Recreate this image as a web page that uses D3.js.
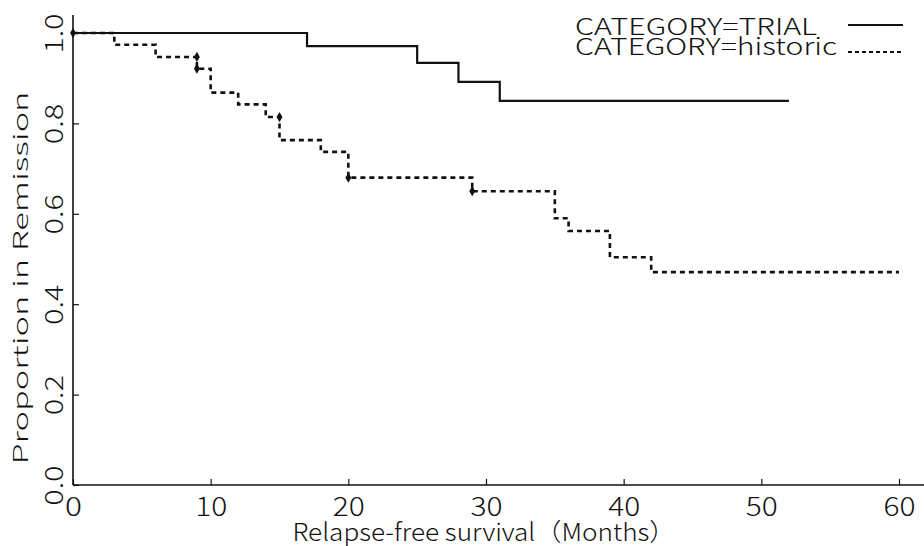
<!DOCTYPE html>
<html>
<head>
<meta charset="utf-8">
<script src="https://cdn.jsdelivr.net/npm/d3@7"></script>
<style>
  html, body { margin: 0; padding: 0; background: #fff; }
  svg { display: block; }
  text { font-family: 'Noto Sans CJK JP', 'DejaVu Sans', sans-serif; font-weight: 300; fill: #111; }
</style>
</head>
<body>
<svg id="chart" width="924" height="546"></svg>
<script>
// Kaplan-Meier steps
const trialTimes = [0, 17, 25, 28, 31, 52];
const trialSurv = [1.0, 0.971, 0.934, 0.892, 0.850, 0.850];
const trialCensorTimes = [0];
const trialCensorSurv = [1.0];

const historicTimes = [0, 3, 6, 9, 10, 12, 14, 15, 18, 20, 29, 35, 36, 39, 42, 60];
const historicSurv = [1.0, 0.974, 0.947, 0.921, 0.868, 0.842, 0.814, 0.763, 0.737, 0.680, 0.650, 0.590, 0.562, 0.504, 0.471, 0.471];
const historicCensorTimes = [9, 9, 15, 20, 29];
const historicCensorSurv = [0.947, 0.921, 0.814, 0.680, 0.650];

const xTicks = [0, 10, 20, 30, 40, 50, 60];
const yTicks = [0.0, 0.2, 0.4, 0.6, 0.8, 1.0];
const legendLabels = ['CATEGORY=TRIAL', 'CATEGORY=historic'];
const xTitle = 'Relapse-free survival（Months）';
const yTitle = 'Proportion in Remission';

const svg = d3.select('#chart');
const x = d3.scaleLinear().domain([0, 60]).range([73, 899]);
const y = d3.scaleLinear().domain([0, 1]).range([485, 33]);

const fit = (sel, len) => sel.attr('textLength', len).attr('lengthAdjust', 'spacingAndGlyphs');

// axis lines
svg.append('line').attr('x1', x(0)).attr('x2', x(0)).attr('y1', y(0)).attr('y2', y(1.04))
  .attr('stroke', '#111').attr('stroke-width', 1.6);
svg.append('line').attr('x1', x(0)).attr('x2', x(62)).attr('y1', y(0)).attr('y2', y(0))
  .attr('stroke', '#111').attr('stroke-width', 1.6);

// x axis, ticks pointing inward
const gx = svg.append('g').attr('transform', `translate(0,${y(0)})`)
  .call(d3.axisBottom(x).tickValues(xTicks).tickSize(-6).tickSizeOuter(0).tickFormat(d => d));
gx.select('.domain').remove();
gx.selectAll('.tick line').attr('stroke', '#111').attr('stroke-width', 1.2);
gx.selectAll('.tick text').attr('y', 31).attr('dy', 0).attr('fill', '#111')
  .style('font-size', '26px').style('font-family', null)
  .each(function(d) { fit(d3.select(this), d < 10 ? 17 : 32); });

// y axis, labels turned
const gy = svg.append('g').attr('transform', `translate(${x(0)},0)`)
  .call(d3.axisLeft(y).tickValues(yTicks).tickSize(-6).tickSizeOuter(0).tickFormat(d3.format('.1f')));
gy.select('.domain').remove();
gy.selectAll('.tick line').attr('stroke', '#111').attr('stroke-width', 1.2);
gy.selectAll('.tick text').attr('transform', 'rotate(-90)')
  .attr('x', 0).attr('y', -10).attr('dy', 0).attr('text-anchor', 'middle').attr('fill', '#111')
  .style('font-size', '25px').style('font-family', null)
  .each(function() { fit(d3.select(this), 40); });

// titles
fit(svg.append('text').attr('x', 484).attr('y', 541).attr('text-anchor', 'middle')
  .style('font-size', '24.5px').text(xTitle), 383);
fit(svg.append('text').attr('transform', 'translate(28,278) rotate(-90)').attr('text-anchor', 'middle')
  .style('font-size', '20px').text(yTitle), 373);

// curves
const step = d3.line().x(d => x(d[0])).y(d => y(d[1])).curve(d3.curveStepAfter);
svg.append('path').datum(d3.zip(trialTimes, trialSurv)).attr('d', step)
  .attr('fill', 'none').attr('stroke', '#111').attr('stroke-width', 2.2);
svg.append('path').datum(d3.zip(historicTimes, historicSurv)).attr('d', step)
  .attr('fill', 'none').attr('stroke', '#111').attr('stroke-width', 2.6).attr('stroke-dasharray', '5,4');

// censor marks
const mark = d3.symbol().type(d3.symbolDiamond).size(30);
svg.selectAll('.cen-t').data(d3.zip(trialCensorTimes, trialCensorSurv)).enter().append('path')
  .attr('d', mark).attr('transform', d => `translate(${x(d[0])},${y(d[1])})`).attr('fill', '#111');
svg.selectAll('.cen-h').data(d3.zip(historicCensorTimes, historicCensorSurv)).enter().append('path')
  .attr('d', mark).attr('transform', d => `translate(${x(d[0])},${y(d[1])})`).attr('fill', '#111');

// legend
const lg = svg.append('g');
fit(lg.append('text').attr('x', 575).attr('y', 35).style('font-size', '23px').text(legendLabels[0]), 242);
fit(lg.append('text').attr('x', 575).attr('y', 55).style('font-size', '23px').text(legendLabels[1]), 262);
lg.append('line').attr('x1', 848).attr('x2', 903).attr('y1', 25).attr('y2', 25)
  .attr('stroke', '#111').attr('stroke-width', 2);
lg.append('line').attr('x1', 848).attr('x2', 903).attr('y1', 52).attr('y2', 52)
  .attr('stroke', '#111').attr('stroke-width', 2.2).attr('stroke-dasharray', '4,3');
</script>
</body>
</html>
